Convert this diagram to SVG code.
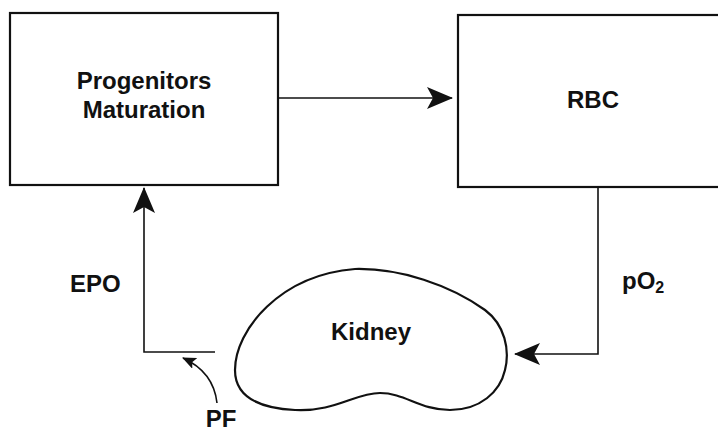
<svg xmlns="http://www.w3.org/2000/svg" width="718" height="433" viewBox="0 0 718 433">
<style>
.box{fill:#fff;stroke:#111;stroke-width:2.2}
.lbl{font-family:"Liberation Sans",Arial,sans-serif;font-weight:bold;font-size:24px;fill:#111}
.ln{fill:none;stroke:#111;stroke-width:1.6}
</style>
<defs>
<marker id="ah" viewBox="0 0 26 22" refX="25" refY="11" markerWidth="26" markerHeight="22" markerUnits="userSpaceOnUse" orient="auto">
<path d="M0 0 L26 11 L0 22 L6 11 Z" fill="#111"/>
</marker>
<marker id="ahs" viewBox="0 0 14 12" refX="13" refY="6" markerWidth="14" markerHeight="12" markerUnits="userSpaceOnUse" orient="auto">
<path d="M0 0 L14 6 L0 12 L3 6 Z" fill="#111"/>
</marker>
</defs>
<rect width="718" height="433" fill="#fff"/>
<g id="progenitors">
<rect class="box" x="10" y="13" width="268" height="172"/>
<text class="lbl" x="144" y="89" text-anchor="middle">Progenitors</text>
<text class="lbl" x="144" y="118" text-anchor="middle">Maturation</text>
</g>
<g id="rbc">
<rect class="box" x="458" y="15" width="280" height="172"/>
<text class="lbl" x="593" y="108" text-anchor="middle">RBC</text>
</g>
<g id="kidney">
<path class="box" d="M355 269 C400 268 450 285 485 310 C505 325 510 350 505 370 C500 392 480 410 450 410 C420 410 405 393 380 393 C355 393 335 412 295 410 C255 408 235 395 235 370 C235 330 280 275 355 269 Z"/>
<text class="lbl" x="371" y="340" text-anchor="middle">Kidney</text>
</g>
<g id="labels">
<text class="lbl" x="70" y="292">EPO</text>
<text class="lbl" x="622" y="289">pO<tspan font-size="16" dy="4">2</tspan></text>
<text class="lbl" x="221" y="427" text-anchor="middle">PF</text>
</g>
<g id="connectors">
<line class="ln" x1="278" y1="98" x2="452" y2="98" marker-end="url(#ah)"/>
<polyline class="ln" points="598,187 598,354 515,354" marker-end="url(#ah)"/>
<polyline class="ln" points="215,352 144,352 144,188" marker-end="url(#ah)"/>
<path class="ln" d="M217 403 C215 385 205 368 183 358" marker-end="url(#ahs)"/>
</g>
</svg>
